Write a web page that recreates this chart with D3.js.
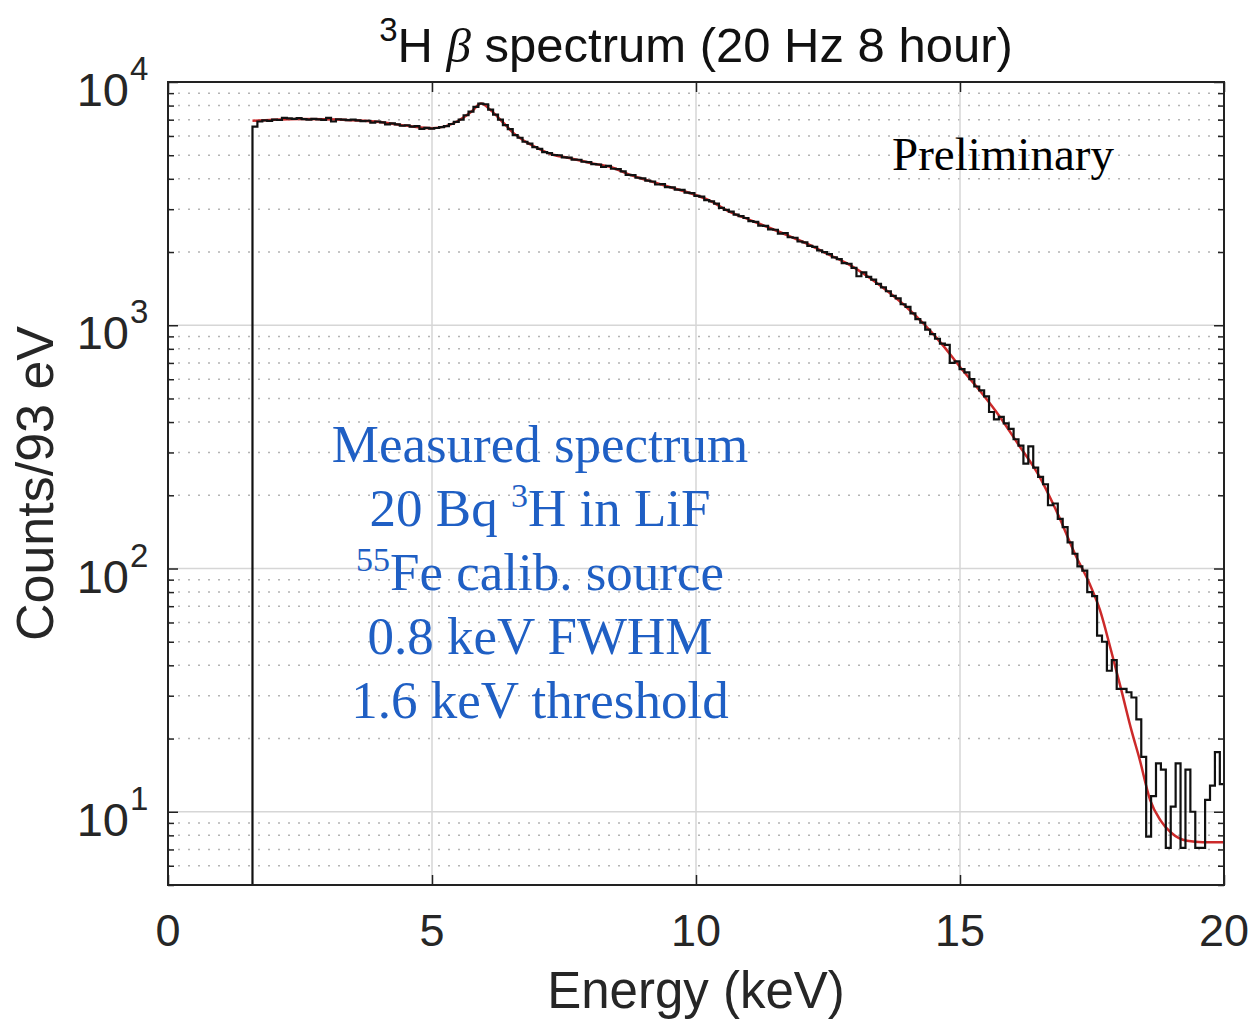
<!DOCTYPE html>
<html>
<head>
<meta charset="utf-8">
<script src="https://cdn.jsdelivr.net/npm/d3@7"></script>
<style>
  body { margin: 0; background: #fff; }
  svg { display: block; }
</style>
</head>
<body>
<svg id="chart" width="1257" height="1021"></svg>
<script>
// histogram: 93 eV bins starting at the 1.6 keV threshold
const binStart = 1.6, binWidth = 0.093;
const counts = [
  6550, 6880, 6950, 6920, 7010, 6980, 7120, 7090, 7060, 7100,
  7040, 7000, 7060, 7020, 6990, 7120, 6880, 7030, 7010, 6970,
  7000, 6950, 6900, 6930, 6810, 6880, 6820, 6700, 6760, 6690,
  6610, 6640, 6560, 6580, 6420, 6480, 6430, 6470, 6520, 6590,
  6720, 6850, 7000, 7300, 7560, 7900, 8150, 8100, 7700, 7350,
  7000, 6650, 6400, 6050, 5900, 5680, 5580, 5400, 5310, 5150,
  5100, 5010, 5000, 4900, 4890, 4800, 4790, 4700, 4680, 4600,
  4580, 4480, 4520, 4400, 4380, 4290, 4150, 4140, 4040, 4020,
  3930, 3900, 3790, 3800, 3700, 3690, 3610, 3600, 3510, 3490,
  3400, 3380, 3270, 3230, 3160, 3040, 2980, 2930, 2850, 2810,
  2760, 2680, 2660, 2570, 2560, 2480, 2470, 2380, 2390, 2300,
  2290, 2210, 2190, 2120, 2100, 2030, 2000, 1960, 1900, 1870,
  1800, 1790, 1720, 1590, 1650, 1580, 1540, 1480, 1430, 1380,
  1320, 1290, 1220, 1190, 1120, 1060, 1025, 960, 920, 880,
  840, 830, 700, 710, 660, 640, 600, 560, 540, 510,
  440, 410, 420, 395, 375, 340, 320, 270, 318, 260,
  238, 222, 182, 185, 160, 148, 128, 115, 102, 98,
  80, 77, 53, 50, 38, 42, 32, 32, 31, 29.5,
  24, 16.8, 7.9, 11.6, 15.8, 14.9, 7.1, 10.5, 15.8, 7.1,
  14.9, 10, 7.1, 7.1, 11.2, 12.8, 17.6, 13
];

// fitted spectrum (red)
const fitEnergy = [1.6, 2.0, 2.5, 3.0, 3.5, 4.0, 4.5, 5.0, 5.25, 5.5, 5.75, 5.93, 6.1, 6.35, 6.55, 6.75,
  7.0, 7.25, 7.6, 8.0, 8.4, 8.75, 9.1, 9.5, 9.9, 10.25, 10.65, 11.0, 11.4, 11.8, 12.15, 12.5,
  12.9, 13.3, 13.7, 14.0, 14.3, 14.65, 15.0, 15.4, 15.75, 16.1, 16.5, 16.85, 17.2, 17.45, 17.65,
  17.85, 18.05, 18.25, 18.4, 18.6, 18.8, 19.0, 19.3, 19.6, 20.0];
const fitCounts = [6930, 7000, 7040, 7030, 6960, 6850, 6620, 6460, 6570, 6930, 7560, 8150, 7700, 6800, 6150, 5720,
  5350, 5060, 4870, 4645, 4460, 4150, 3930, 3700, 3490, 3260, 2920, 2720, 2510, 2310, 2140, 1960,
  1775, 1560, 1340, 1180, 1020, 840, 674, 530, 422, 325, 240, 168, 112, 87, 67.6,
  47, 32, 21.5, 16.5, 11.2, 9.2, 8.2, 7.6, 7.5, 7.5];

const xTicks = [0, 5, 10, 15, 20];
const yTicks = [10, 100, 1000, 10000];
const yTickExp = ["1", "2", "3", "4"];

// blue annotation, [text, superscript?] pieces per line
const noteLines = [
  [["Measured spectrum", false]],
  [["20 Bq ", false], ["3", true], ["H in LiF", false]],
  [["55", true], ["Fe calib. source", false]],
  [["0.8 keV FWHM", false]],
  [["1.6 keV threshold", false]]
];

const margin = { left: 168, right: 1224, top: 82, bottom: 885 };
const sans = "'Liberation Sans', Arial, Helvetica, sans-serif";
const serif = "'Liberation Serif', 'Times New Roman', serif";

const svg = d3.select('#chart');

const x = d3.scaleLinear().domain([0, 20]).range([margin.left, margin.right]);
const y = d3.scaleLog().domain([5, 10000]).range([margin.bottom, margin.top]);

svg.append('defs').append('clipPath').attr('id', 'plotclip')
  .append('rect')
  .attr('x', margin.left).attr('y', margin.top)
  .attr('width', margin.right - margin.left).attr('height', margin.bottom - margin.top);

// minor grid (dotted) for the log axis
const minorY = y.ticks().filter(v => !yTicks.includes(v));
svg.append('g').selectAll('line').data(minorY).enter().append('line')
  .attr('x1', margin.left).attr('x2', margin.right)
  .attr('y1', d => y(d)).attr('y2', d => y(d))
  .attr('stroke', '#b4b4b4').attr('stroke-width', 1.5)
  .attr('stroke-dasharray', '2,8');

// major grid
svg.append('g').selectAll('line').data(yTicks.slice(0, 3)).enter().append('line')
  .attr('x1', margin.left).attr('x2', margin.right)
  .attr('y1', d => y(d)).attr('y2', d => y(d))
  .attr('stroke', '#d6d6d6').attr('stroke-width', 1.5);
svg.append('g').selectAll('line').data(xTicks.slice(1, 4)).enter().append('line')
  .attr('y1', margin.top).attr('y2', margin.bottom)
  .attr('x1', d => x(d)).attr('x2', d => x(d))
  .attr('stroke', '#d6d6d6').attr('stroke-width', 1.5);

// data
const plot = svg.append('g').attr('clip-path', 'url(#plotclip)');

const histPts = [[binStart, y.domain()[0]]]
  .concat(counts.map((c, i) => [binStart + i * binWidth, c]))
  .concat([[binStart + counts.length * binWidth, counts[counts.length - 1]]]);

plot.append('path')
  .datum(fitEnergy.map((e, i) => [e, fitCounts[i]]))
  .attr('fill', 'none')
  .attr('stroke', '#cc2a2a')
  .attr('stroke-width', 2.5)
  .attr('d', d3.line().x(d => x(d[0])).y(d => y(d[1])).curve(d3.curveMonotoneX));

plot.append('path')
  .datum(histPts)
  .attr('fill', 'none')
  .attr('stroke', '#111')
  .attr('stroke-width', 2.2)
  .attr('d', d3.line().x(d => x(d[0])).y(d => y(d[1])).curve(d3.curveStepAfter));

// axes (ticks point inward, labels drawn separately)
const axStyle = g => {
  g.select('.domain').remove();
  g.selectAll('.tick line').attr('stroke', '#222').attr('stroke-width', 1.5);
  g.selectAll('.tick text').remove();
};
svg.append('g').attr('transform', `translate(0,${margin.bottom})`)
  .call(d3.axisBottom(x).tickValues(xTicks).tickSize(-10)).call(axStyle);
svg.append('g').attr('transform', `translate(0,${margin.top})`)
  .call(d3.axisTop(x).tickValues(xTicks).tickSize(-10)).call(axStyle);
svg.append('g').attr('transform', `translate(${margin.left},0)`)
  .call(d3.axisLeft(y).tickValues(yTicks).tickSize(-10)).call(axStyle);
svg.append('g').attr('transform', `translate(${margin.right},0)`)
  .call(d3.axisRight(y).tickValues(yTicks).tickSize(-10)).call(axStyle);
svg.append('g').attr('transform', `translate(${margin.left},0)`)
  .call(d3.axisLeft(y).tickValues(minorY).tickSize(-6)).call(axStyle);
svg.append('g').attr('transform', `translate(${margin.right},0)`)
  .call(d3.axisRight(y).tickValues(minorY).tickSize(-6)).call(axStyle);

svg.append('rect')
  .attr('x', margin.left).attr('y', margin.top)
  .attr('width', margin.right - margin.left).attr('height', margin.bottom - margin.top)
  .attr('fill', 'none').attr('stroke', '#222').attr('stroke-width', 2);

// tick labels
svg.append('g').selectAll('text').data(xTicks).enter().append('text')
  .attr('x', d => x(d)).attr('y', 946)
  .attr('text-anchor', 'middle')
  .attr('font-family', sans).attr('font-size', 45).attr('fill', '#262626')
  .text(d => d);

const yl = svg.append('g').selectAll('g').data(yTicks).enter().append('g');
yl.append('text')
  .attr('x', 129).attr('y', d => y(d) + 24)
  .attr('text-anchor', 'end')
  .attr('font-family', sans).attr('font-size', 47).attr('fill', '#262626')
  .text('10');
yl.append('text')
  .attr('x', 130).attr('y', d => y(d) - 2)
  .attr('font-family', sans).attr('font-size', 33).attr('fill', '#262626')
  .text((d, i) => yTickExp[i]);

// axis titles
svg.append('text')
  .attr('x', (margin.left + margin.right) / 2).attr('y', 1008)
  .attr('text-anchor', 'middle')
  .attr('font-family', sans).attr('font-size', 51).attr('fill', '#262626')
  .text('Energy (keV)');

svg.append('text')
  .attr('transform', `translate(53,${(margin.top + margin.bottom) / 2}) rotate(-90)`)
  .attr('text-anchor', 'middle')
  .attr('font-family', sans).attr('font-size', 52).attr('fill', '#262626')
  .text('Counts/93 eV');

// title
const title = svg.append('text')
  .attr('x', (margin.left + margin.right) / 2).attr('y', 62)
  .attr('text-anchor', 'middle')
  .attr('font-family', sans).attr('font-size', 49).attr('fill', '#111');
title.append('tspan').attr('font-size', 33).attr('dy', -21).text('3');
title.append('tspan').attr('dy', 21).text('H ');
title.append('tspan').attr('font-style', 'italic').attr('font-family', serif).text('β');
title.append('tspan').text(' spectrum (20 Hz 8 hour)');

// annotations
svg.append('text')
  .attr('x', 1003).attr('y', 170)
  .attr('text-anchor', 'middle')
  .attr('font-family', serif).attr('font-size', 47).attr('fill', '#000')
  .text('Preliminary');

const notes = svg.append('g');
noteLines.forEach((line, k) => {
  const t = notes.append('text')
    .attr('x', 540).attr('y', 462 + k * 64)
    .attr('text-anchor', 'middle')
    .attr('font-family', serif).attr('font-size', 53).attr('fill', '#1f5fc4');
  line.forEach(([s, sup]) => {
    t.append('tspan')
      .attr('baseline-shift', sup ? '55%' : null)
      .attr('font-size', sup ? 34 : null)
      .text(s);
  });
});
</script>
</body>
</html>
